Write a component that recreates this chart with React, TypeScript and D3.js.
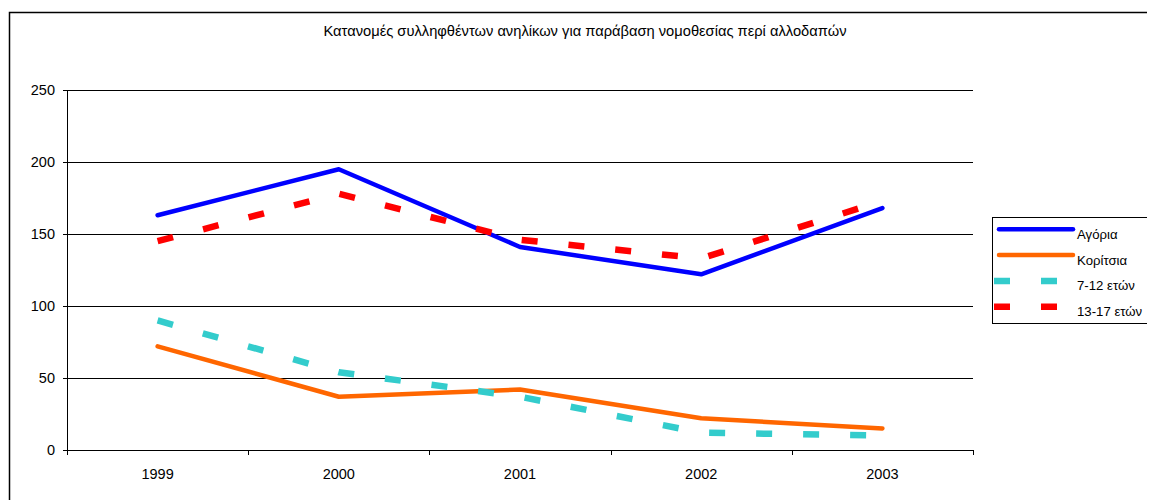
import React from "react";
import * as d3 from "d3";

const categories = ["1999", "2000", "2001", "2002", "2003"];
const agoria = [163, 195, 141, 122, 168];
const koritsia = [72, 37, 42, 22, 15];
const age712 = [90, 54, 37, 12, 10];
const age1317 = [145, 178, 146, 133, 173];
const yTicks = [0, 50, 100, 150, 200, 250];

const series = [
  { name: "Αγόρια", values: agoria, color: "#0000FF", dash: null as string | null },
  { name: "Κορίτσια", values: koritsia, color: "#FF6600", dash: null as string | null },
  { name: "7-12 ετών", values: age712, color: "#33CCCC", dash: "16,31" },
  { name: "13-17 ετών", values: age1317, color: "#FF0000", dash: "16,31" },
];

export default function App() {
  const W = 1147, H = 492;
  // svg is offset by 8px body margin
  const left = 59, right = 965, top = 82, bottom = 442;
  const x = d3.scaleBand<string>().domain(categories).range([left, right]);
  const y = d3.scaleLinear().domain([0, 250]).range([bottom, top]);
  const line = d3
    .line<number>()
    .x((_, i) => (x(categories[i]) as number) + x.bandwidth() / 2)
    .y((d) => y(d));
  const font = "'Liberation Sans', Arial, sans-serif";
  const fs = 14.5;
  const bandEdges = categories.map((c) => x(c) as number).concat([right]);
  return (
    <svg width={W} height={H} style={{ display: "block" }} fontFamily={font}>
      <rect x={0} y={0} width={W} height={H} fill="#fff" />
      <text x={577} y={28} textAnchor="middle" fontSize={14.7}>
        Κατανομές συλληφθέντων ανηλίκων για παράβαση νομοθεσίας περί αλλοδαπών
      </text>
      {yTicks.map((t) => (
        <g key={t}>
          {t > 0 && (
            <line x1={left} x2={right} y1={Math.round(y(t)) + 0.5} y2={Math.round(y(t)) + 0.5} stroke="#000" strokeWidth={1} />
          )}
          <line x1={left - 4} x2={left} y1={Math.round(y(t)) + 0.5} y2={Math.round(y(t)) + 0.5} stroke="#000" />
          <text x={left - 12} y={y(t) + 5} textAnchor="end" fontSize={fs}>
            {t}
          </text>
        </g>
      ))}
      <line x1={left + 0.5} x2={left + 0.5} y1={top} y2={bottom + 4} stroke="#000" />
      <line x1={left} x2={right} y1={bottom + 0.5} y2={bottom + 0.5} stroke="#000" />
      {bandEdges.map((e, i) => (
        <line key={i} x1={Math.round(e) + 0.5} x2={Math.round(e) + 0.5} y1={bottom} y2={bottom + 5} stroke="#000" />
      ))}
      {categories.map((c) => (
        <text key={c} x={(x(c) as number) + x.bandwidth() / 2} y={bottom + 29} textAnchor="middle" fontSize={fs}>
          {c}
        </text>
      ))}
      {series.map((s) => (
        <path
          key={s.name}
          d={line(s.values) as string}
          fill="none"
          stroke={s.color}
          strokeWidth={s.dash ? 6.5 : 4.5}
          strokeDasharray={s.dash ?? undefined}
          strokeLinecap={s.dash ? "butt" : "round"}
          strokeLinejoin="round"
        />
      ))}
      <rect x={984.5} y={209.5} width={160} height={106} fill="#fff" stroke="#000" />
      {series.map((s, i) => {
        const ly = 221.3 + i * 25.8;
        return (
          <g key={s.name}>
            <line
              x1={s.dash ? 986 : 991}
              x2={s.dash ? 1065 : 1065}
              y1={ly}
              y2={ly}
              stroke={s.color}
              strokeWidth={s.dash ? 6.5 : 4.5}
              strokeDasharray={s.dash ?? undefined}
              strokeLinecap={s.dash ? "butt" : "round"}
            />
            <text x={1069} y={ly + 9.5} fontSize={13.2}>
              {s.name}
            </text>
          </g>
        );
      })}
      <path d={`M1.5,${H} V4.5 H${W}`} fill="none" stroke="#000" strokeWidth={1.5} />
    </svg>
  );
}
